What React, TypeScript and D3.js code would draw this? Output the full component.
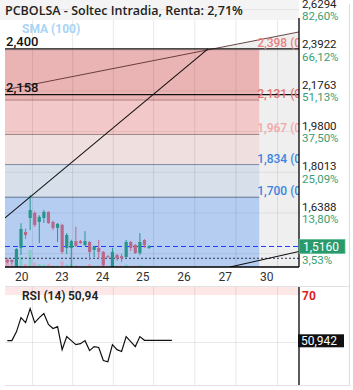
import React from 'react';
import * as d3 from 'd3';

const W = 353;
const H = 390;

// hourly candles, left to right
const opens = [1.469, 1.469, 1.447, 1.511, 1.568, 1.620, 1.639, 1.605, 1.620, 1.643, 1.605, 1.583, 1.594, 1.511, 1.511, 1.535, 1.535, 1.521, 1.532, 1.504, 1.511, 1.497, 1.482, 1.445, 1.486, 1.482, 1.479, 1.532, 1.521, 1.493, 1.539, 1.511];
const highs = [1.475, 1.472, 1.510, 1.600, 1.580, 1.709, 1.645, 1.630, 1.650, 1.645, 1.610, 1.601, 1.598, 1.564, 1.540, 1.587, 1.539, 1.571, 1.535, 1.518, 1.539, 1.500, 1.486, 1.511, 1.490, 1.490, 1.539, 1.535, 1.525, 1.564, 1.542, 1.521];
const lows = [1.458, 1.455, 1.445, 1.486, 1.543, 1.575, 1.587, 1.528, 1.601, 1.598, 1.575, 1.532, 1.490, 1.490, 1.445, 1.514, 1.525, 1.518, 1.469, 1.479, 1.475, 1.445, 1.478, 1.445, 1.466, 1.462, 1.479, 1.500, 1.490, 1.486, 1.511, 1.507];
const closes = [1.462, 1.462, 1.507, 1.579, 1.557, 1.650, 1.594, 1.624, 1.643, 1.601, 1.583, 1.598, 1.497, 1.557, 1.535, 1.518, 1.528, 1.535, 1.497, 1.514, 1.497, 1.452, 1.480, 1.497, 1.475, 1.475, 1.532, 1.511, 1.493, 1.532, 1.521, 1.516];
const volumes = [30, 12, 40, 35, 10, 60, 15, 10, 8, 12, 6, 5, 20, 8, 10, 6, 4, 3, 10, 4, 5, 12, 3, 14, 5, 4, 8, 4, 5, 6, 3, 2];

const rsiValues = [50.8, 50.8, 54.5, 60.5, 58.4, 64.3, 58.4, 60.5, 62.2, 57.6, 55.9, 56.7, 47.0, 52.5, 50.8, 49.1, 49.5, 50.8, 46.6, 48.3, 47.9, 42.4, 41.9, 49.1, 47.0, 46.2, 52.5, 50.4, 48.3, 52.5, 50.94, 50.94, 50.94, 50.94, 50.94, 50.94, 50.94];

const priceTicks = [2.6294, 2.3922, 2.1763, 1.98, 1.8013, 1.6388, 1.4908];
const priceTickLabels = ['2,6294', '2,3922', '2,1763', '1,9800', '1,8013', '1,6388', ''];
const pctTickLabels = ['82,60%', '66,12%', '51,13%', '37,50%', '25,09%', '13,80%', '3,53%'];

const dayLabels = ['20', '23', '24', '25', '26', '27', '30'];
const dayBreaks = [5.5, 14.3, 23.2, 32.0, 41.0, 50.0, 59.1];

const fibLevels = [2.398, 2.131, 1.967, 1.834, 1.7];
const fibLabels = ['2,398 (0', '2,131 (0', '1,967 (0', '1,834 (0', '1,700 (0'];
const fibFills = ['#ebb4b4', '#f3c8c8', '#f0dfdf', '#d6dfea', '#b6cdf2'];
const fibLineColors = ['#b07c7c', '#b08282', '#a08888', '#7a8aa0', '#5f7590'];
const fibTextColors = ['#e88383', '#e57373', '#f4a6a6', '#3d85e0', '#3d85e0'];
const fibEnd = 55.1;

const levelLines = [2.4, 2.158];
const levelLabels = ['2,400', '2,158'];

const lastPrice = 1.516;
const prevClose = 1.475;

// trend lines: [startIndex, startPrice, endIndex, endPrice]
const thinLine = [-0.5, 2.182, 63.8, 2.4966];
const steepLine = [-0.5, 1.62, 43.9, 2.4];
const lowLine = [48.7, 1.4454, 63.8, 1.4985];

export default function App() {
  const x = d3.scaleLinear().domain([-0.5, 63.8]).range([5, 299]);
  const y = d3.scaleLog().domain([1.4454, 2.689]).range([267, 0]);
  const vol = d3.scaleLinear().domain([0, 60]).range([267, 250]);
  const rsiY = d3.scaleLinear().domain([32.1, 73.4]).range([385, 287]);

  const rsiLine = d3.line<number>().x((_, i) => x(i)).y(d => rsiY(d));

  // grey area under the thin trend line, right of the fib zone
  const tx0 = x(thinLine[0]), ty0 = y(thinLine[1]);
  const tx1 = x(thinLine[2]), ty1 = y(thinLine[3]);
  const y24 = y(2.4);
  const t = (y24 - ty0) / (ty1 - ty0);
  const meetX = tx0 + t * (tx1 - tx0);
  const greyPoly = [[meetX, y24], [tx1, ty1], [299, 267], [5, 267], [5, y24]].map(p => p.join(',')).join(' ');

  const fibBounds = [...fibLevels, 1.4454];
  const font = 'Roboto, "Open Sans", sans-serif';

  return (
    <svg width={W} height={H} style={{ position: 'absolute', left: 0, top: 0, background: '#fff' }} fontFamily={font}>
      <defs>
        <clipPath id="plot"><rect x={5} y={0} width={294} height={267} /></clipPath>
      </defs>
      <rect x={0} y={0} width={299} height={20} fill="#f4f4f4" />
      <g clipPath="url(#plot)">
        <polygon points={greyPoly} fill="#efefef" />
        {fibLevels.map((lv, i) => (
          <rect key={'fz' + i} x={x(-0.5)} y={y(lv)} width={x(fibEnd) - x(-0.5)} height={y(fibBounds[i + 1]) - y(lv)} fill={fibFills[i]} />
        ))}
        {fibLevels.slice(1).map((lv, i) => (
          <line key={'fl' + i} x1={x(-0.5)} x2={x(fibEnd)} y1={y(lv)} y2={y(lv)} stroke={fibLineColors[i + 1]} strokeWidth={1} />
        ))}
        {dayBreaks.map((d, i) => (
          <line key={'vg' + i} x1={x(d)} x2={x(d)} y1={20} y2={267} stroke="#000" strokeOpacity={0.09} />
        ))}
        {priceTicks.map((p, i) => (
          <line key={'hg' + i} x1={5} x2={299} y1={y(p)} y2={y(p)} stroke="#000" strokeOpacity={0.07} />
        ))}
        {volumes.map((v, i) => (
          <rect key={'v' + i} x={x(i) - 1.5} y={vol(v)} width={3} height={267 - vol(v)}
            fill={closes[i] >= opens[i] ? '#7fcfc6' : '#dba4bf'} />
        ))}
        <line x1={5} x2={299} y1={y(prevClose)} y2={y(prevClose)} stroke="#2a3550" strokeDasharray="2,2" />
        <line x1={5} x2={299} y1={y(lastPrice)} y2={y(lastPrice)} stroke="#1a3cff" strokeDasharray="5,3" />
        {opens.map((o, i) => {
          const c = closes[i];
          const up = c >= o;
          const col = up ? '#26958d' : '#b9688a';
          const top = y(Math.max(o, c));
          const bot = y(Math.min(o, c));
          return (
            <g key={'c' + i}>
              <line x1={x(i)} x2={x(i)} y1={y(highs[i])} y2={y(lows[i])} stroke={col} strokeWidth={1} />
              <rect x={x(i) - 1.6} y={top} width={3.2} height={Math.max(1, bot - top)} fill={col} />
            </g>
          );
        })}
        <line x1={x(thinLine[0])} y1={y(thinLine[1])} x2={x(thinLine[2])} y2={y(thinLine[3])} stroke="#5a3030" strokeWidth={0.9} />
        <line x1={x(steepLine[0])} y1={y(steepLine[1])} x2={x(steepLine[2])} y2={y(steepLine[3])} stroke="#111" strokeWidth={1.1} />
        <line x1={x(lowLine[0])} y1={y(lowLine[1])} x2={x(lowLine[2])} y2={y(lowLine[3])} stroke="#111" strokeWidth={1.1} />
        {levelLines.map((lv, i) => (
          <g key={'lv' + i}>
            <line x1={5} x2={299} y1={y(lv)} y2={y(lv)} stroke="#111" strokeWidth={1.2} />
            <text x={6} y={y(lv) - 3} fontSize={13} fontWeight={500} fill="#111">{levelLabels[i]}</text>
          </g>
        ))}
        {fibLevels.map((lv, i) => (
          <text key={'ft' + i} x={x(fibEnd) - 2} y={y(lv) - 2} fontSize={12} fontWeight={500} fill={fibTextColors[i]}>{fibLabels[i]}</text>
        ))}
      </g>
      <text x={5} y={15} fontSize={12.5} fontFamily='"Open Sans", sans-serif' fontWeight={600} fill="#222">PCBOLSA - Soltec Intradia, Renta: 2,71%</text>
      <text x={22} y={33} fontSize={12} fontWeight={700} fill="#a8d4f5">SMA (100)</text>

      <line x1={299} x2={299} y1={18} y2={267} stroke="#000" strokeWidth={1.3} />
      <line x1={5} x2={299} y1={267} y2={267} stroke="#000" strokeWidth={1.3} />
      <line x1={349.5} x2={349.5} y1={4} y2={386} stroke="#ddd" />

      {priceTicks.map((p, i) => (
        <g key={'pt' + i}>
          {priceTickLabels[i] && (
            <text x={302} y={y(p) - 2} fontSize={11.5} fill="#222">{priceTickLabels[i]}</text>
          )}
          <text x={302} y={y(p) + 10.5} fontSize={11.5} fill="#3a9e72">{pctTickLabels[i]}</text>
        </g>
      ))}
      <rect x={299} y={y(lastPrice) - 7} width={46} height={14} fill="#2a9a6c" stroke="#5cbf92" strokeWidth={0.8} />
      <text x={303} y={y(lastPrice) + 4.5} fontSize={12} fill="#fff">1,5160</text>

      {dayLabels.map((d, i) => (
        <text key={'dl' + i} x={x(dayBreaks[i]) - 4} y={281} fontSize={12} fill="#333" textAnchor="end">{d}</text>
      ))}

      {/* RSI panel */}
      <line x1={5} x2={349} y1={286.5} y2={286.5} stroke="#e2e2e2" />
      <rect x={5} y={287} width={294} height={rsiY(70) - 287} fill="#fde7e7" />
      {dayBreaks.map((d, i) => (
        <line key={'rg' + i} x1={x(d)} x2={x(d)} y1={287} y2={385} stroke="#000" strokeOpacity={0.09} />
      ))}
      <line x1={5} x2={299} y1={rsiY(50)} y2={rsiY(50)} stroke="#000" strokeOpacity={0.09} />
      <line x1={5} x2={349} y1={385.5} y2={385.5} stroke="#e2e2e2" />
      <path d={rsiLine(rsiValues) ?? ''} fill="none" stroke="#111" strokeWidth={1.2} />
      <text x={22} y={300} fontSize={12} fontWeight={600} fill="#222">RSI (14)</text>
      <text x={68} y={300} fontSize={12} fontWeight={600} fill="#222">50,94</text>
      <line x1={299} x2={299} y1={287} y2={385} stroke="#000" strokeWidth={1.3} />
      <text x={302} y={rsiY(70) + 4.5} fontSize={12} fontWeight={700} fill="#e21b1b">70</text>
      <rect x={298} y={rsiY(50.94) - 6} width={46} height={13} fill="#111" />
      <text x={301} y={rsiY(50.94) + 4.5} fontSize={12} fill="#fff">50,942</text>
    </svg>
  );
}
